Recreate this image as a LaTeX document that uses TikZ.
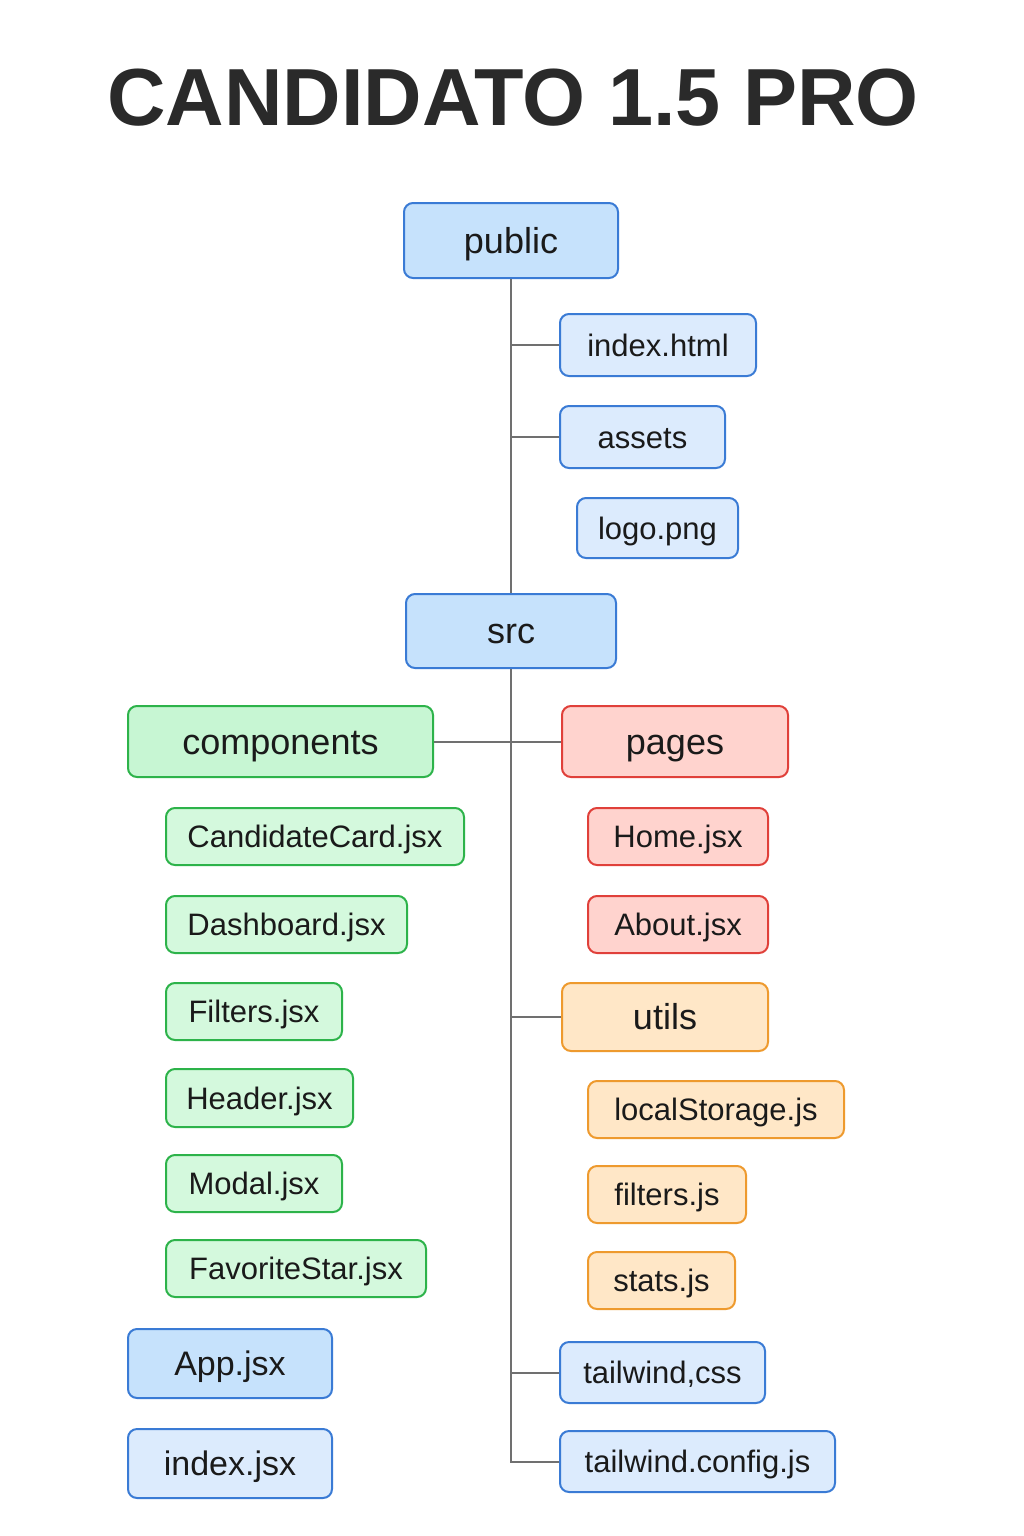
\documentclass[tikz,border=0pt]{standalone}
\usepackage{fontspec}
\setmainfont{Liberation Sans}
\definecolor{txt}{HTML}{1A1A1A}
\definecolor{ttl}{HTML}{2A2A2A}
\definecolor{lin}{HTML}{707070}
\definecolor{blueS}{HTML}{3A7BD5}
\definecolor{blueA}{HTML}{C6E2FC}
\definecolor{blueB}{HTML}{DCEBFD}
\definecolor{greenS}{HTML}{2DB34A}
\definecolor{greenA}{HTML}{C7F6D3}
\definecolor{greenB}{HTML}{D4F9DD}
\definecolor{redS}{HTML}{E0403A}
\definecolor{redA}{HTML}{FFD3CE}
\definecolor{orangeS}{HTML}{EE9A2E}
\definecolor{orangeA}{HTML}{FFE7C7}
\tikzset{
  bx/.style={draw, rounded corners=9pt, line width=2pt, align=center, text=txt,
    inner sep=0pt, text depth=0pt},
  big/.style={bx, font=\fontsize{36}{40}\selectfont, text height=25.5pt},
  small/.style={bx, font=\fontsize{31}{36}\selectfont, text height=22.2pt},
  bluefold/.style={big, draw=blueS, fill=blueA},
  bluefile/.style={small, draw=blueS, fill=blueB},
  greenfold/.style={big, draw=greenS, fill=greenA},
  greenfile/.style={small, draw=greenS, fill=greenB},
  redfold/.style={big, draw=redS, fill=redA},
  redfile/.style={small, draw=redS, fill=redA},
  orangefold/.style={big, draw=orangeS, fill=orangeA},
  orangefile/.style={small, draw=orangeS, fill=orangeA},
  conn/.style={draw=lin, line width=2pt},
  sz/.style 2 args={minimum width=#1pt, minimum height=#2pt}
}
\begin{document}
\begin{tikzpicture}[x=1pt,y=-1pt]
\useasboundingbox (0,0) rectangle (1024,1536);
\fill[white] (0,0) rectangle (1024,1536);

\node[font=\bfseries\fontsize{81}{90}\selectfont, text=ttl, inner sep=0pt,
  text height=58pt, text depth=0pt] (title) at (513,97) {CANDIDATO 1.5 PRO};

% public
\node[bluefold, sz={214}{75}] (pub) at (511,240.5) {public};
\node[bluefile, sz={196}{62}] (idx) at (658,345) {index.html};
\node[bluefile, sz={165}{62}] (ast) at (642.5,437) {assets};
\node[bluefile, sz={161}{60}] (logo) at (657.5,528) {logo.png};

% src
\node[bluefold, sz={210}{74}] (src) at (511,631) {src};
\node[greenfold, sz={305}{71}] (comp) at (280.5,741.5) {components};
\node[redfold, sz={226}{71}] (pages) at (675,741.5) {pages};

\node[greenfile, sz={298}{57}] (cc) at (315,836.5) {CandidateCard.jsx};
\node[greenfile, sz={241}{57}] (dash) at (286.5,924.5) {Dashboard.jsx};
\node[greenfile, sz={176}{57}] (filt) at (254,1011.5) {Filters.jsx};
\node[greenfile, sz={187}{58}] (head) at (259.5,1098) {Header.jsx};
\node[greenfile, sz={176}{57}] (modal) at (254,1183.5) {Modal.jsx};
\node[greenfile, sz={260}{57}] (fav) at (296,1268.5) {FavoriteStar.jsx};

\node[redfile, sz={180}{57}] (home) at (678,836.5) {Home.jsx};
\node[redfile, sz={180}{57}] (about) at (678,924.5) {About.jsx};

\node[orangefold, sz={206}{68}] (utils) at (665,1017) {utils};
\node[orangefile, sz={256}{57}] (ls) at (716,1109.5) {localStorage.js};
\node[orangefile, sz={158}{57}] (fjs) at (667,1194.5) {filters.js};
\node[orangefile, sz={147}{57}] (stats) at (661.5,1280.5) {stats.js};

\node[bluefold, sz={204}{69}, font=\fontsize{34}{40}\selectfont, text height=24.3pt] (app) at (230,1363.5) {App.jsx};
\node[bluefold, sz={204}{69}, fill=blueB, font=\fontsize{34}{40}\selectfont, text height=24.3pt] (ijsx) at (230,1463.5) {index.jsx};

\node[bluefile, sz={205}{61}] (tcss) at (662.5,1372.5) {tailwind,css};
\node[bluefile, sz={275}{61}] (tcfg) at (697.5,1461.5) {tailwind.config.js};

% connectors
\draw[conn] (pub.south) -- (src.north);
\draw[conn] (idx.west) -- (idx.west -| pub.south);
\draw[conn] (ast.west) -- (ast.west -| pub.south);
\draw[conn] (src.south) |- (tcfg.west);
\draw[conn] (comp.east) -- (pages.west);
\draw[conn] (utils.west) -- (utils.west -| src.south);
\draw[conn] (tcss.west) -- (tcss.west -| src.south);
\end{tikzpicture}
\end{document}
